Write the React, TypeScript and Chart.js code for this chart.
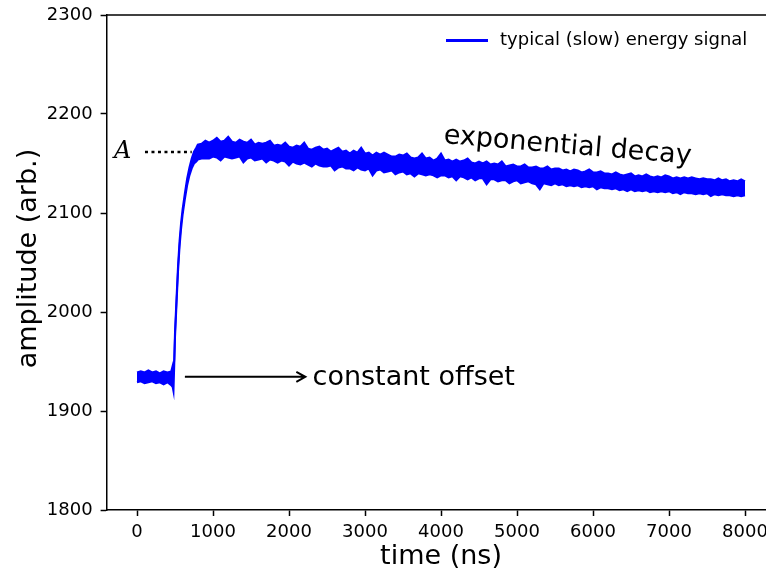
import React, { useEffect, useRef } from "react";
import { Chart, registerables } from "chart.js";

Chart.register(...registerables);

// ---- data ----
// the noisy signal is drawn as a band: upper and lower envelope of the trace
const times: number[] = [
  0, 50, 100, 150, 200, 250, 300, 350, 400, 450, 470, 480, 490, 500, 520, 540, 560, 580, 600, 630,
  660, 690, 720, 750, 780, 800,
  850, 900, 950, 1000, 1050, 1100, 1150, 1200, 1250, 1300, 1350, 1400, 1450, 1500, 1550, 1600, 1650, 1700, 1750, 1800,
  1850, 1900, 1950, 2000, 2050, 2100, 2150, 2200, 2250, 2300, 2350, 2400, 2450, 2500, 2550, 2600, 2650, 2700, 2750, 2800,
  2850, 2900, 2950, 3000, 3050, 3100, 3150, 3200, 3250, 3300, 3350, 3400, 3450, 3500, 3550, 3600, 3650, 3700, 3750, 3800,
  3850, 3900, 3950, 4000, 4050, 4100, 4150, 4200, 4250, 4300, 4350, 4400, 4450, 4500, 4550, 4600, 4650, 4700, 4750, 4800,
  4850, 4900, 4950, 5000, 5050, 5100, 5150, 5200, 5250, 5300, 5350, 5400, 5450, 5500, 5550, 5600, 5650, 5700, 5750, 5800,
  5850, 5900, 5950, 6000, 6050, 6100, 6150, 6200, 6250, 6300, 6350, 6400, 6450, 6500, 6550, 6600, 6650, 6700, 6750, 6800,
  6850, 6900, 6950, 7000, 7050, 7100, 7150, 7200, 7250, 7300, 7350, 7400, 7450, 7500, 7550, 7600, 7650, 7700, 7750, 7800,
  7850, 7900, 7950, 8000,
];

const signalUpper: number[] = [
  1939, 1940, 1939, 1941, 1939, 1940, 1938, 1940, 1939, 1940, 1946, 1942, 1952, 1980, 2014, 2047, 2072, 2090, 2104, 2120,
  2135, 2146, 2155, 2162, 2166, 2169,
  2170, 2173, 2171, 2173, 2176, 2172, 2173, 2177, 2172, 2171, 2174, 2172, 2171, 2174, 2169, 2171, 2170, 2171, 2173, 2168,
  2169, 2168, 2171, 2167, 2166, 2168, 2167, 2171, 2165, 2164, 2166, 2167, 2164, 2165, 2162, 2164, 2166, 2162, 2163, 2160,
  2163, 2161, 2166, 2160, 2161, 2158, 2161, 2159, 2161, 2159, 2157, 2157, 2159, 2158, 2160, 2156, 2155, 2156, 2160, 2155,
  2156, 2153, 2155, 2160, 2153, 2154, 2152, 2154, 2152, 2153, 2155, 2151, 2150, 2152, 2150, 2152, 2149, 2150, 2149, 2152,
  2147, 2148, 2149, 2147, 2147, 2149, 2146, 2146, 2147, 2145, 2145, 2147, 2144, 2145, 2145, 2143, 2144, 2142, 2144, 2143,
  2141, 2142, 2144, 2141, 2141, 2142, 2140, 2140, 2139, 2141, 2139, 2138, 2139, 2140, 2137, 2138, 2137, 2139, 2137, 2136,
  2137, 2136, 2138, 2137, 2135, 2136, 2135, 2136, 2135, 2136, 2135, 2134, 2135, 2134, 2134, 2133, 2135, 2133, 2134, 2132,
  2133, 2132, 2134, 2132,
];

const signalLower: number[] = [
  1929, 1930, 1928, 1929, 1930, 1928, 1929, 1927, 1929, 1926, 1924, 1920, 1946, 1974, 2008, 2041, 2066, 2084, 2098, 2114,
  2128, 2138, 2145, 2150, 2152, 2154,
  2155, 2155, 2155, 2157, 2156, 2153, 2157, 2156, 2155, 2156, 2157, 2151, 2155, 2156, 2153, 2154, 2155, 2151, 2154, 2153,
  2151, 2153, 2152, 2148, 2152, 2150, 2149, 2151, 2149, 2147, 2150, 2148, 2147, 2147, 2148, 2143, 2146, 2147, 2145, 2145,
  2143, 2146, 2144, 2143, 2145, 2138, 2143, 2144, 2141, 2142, 2143, 2139, 2141, 2142, 2139, 2140, 2137, 2140, 2139, 2138,
  2139, 2138, 2136, 2138, 2138, 2136, 2137, 2133, 2137, 2136, 2134, 2136, 2133, 2135, 2135, 2129, 2134, 2134, 2132, 2133,
  2133, 2130, 2132, 2133, 2130, 2131, 2132, 2130, 2129, 2124, 2130, 2129, 2128, 2130, 2128, 2129, 2127, 2128, 2127, 2128,
  2126, 2127, 2126, 2127, 2124, 2126, 2125, 2125, 2124, 2125, 2123, 2124, 2122, 2124, 2122, 2123, 2122, 2123, 2121, 2122,
  2121, 2122, 2121, 2122, 2120, 2121, 2119, 2121, 2120, 2120, 2119, 2120, 2119, 2120, 2117, 2119, 2118, 2119, 2118, 2118,
  2117, 2118, 2117, 2118,
];

const xTicks: number[] = [0, 1000, 2000, 3000, 4000, 5000, 6000, 7000, 8000];
const yTicks: number[] = [1800, 1900, 2000, 2100, 2200, 2300];

const seriesLabel = "typical (slow) energy signal";
const xTitle = "time (ns)";
const yTitle = "amplitude (arb.)";
const offsetLabel = "constant offset";
const decayLabel = "exponential decay";
const amplitudeSymbol = "A";

// annotation anchor points (data units)
const levelA = 2161.5;
const offsetLevel = 1934;

const FONT = "'DejaVu Sans', sans-serif";
const BLUE = "#0000ff";

const annotPlugin = {
  id: "annot",
  afterDraw(chart: any) {
    const { ctx, chartArea: ca, scales } = chart;
    const x = scales.x;
    const y = scales.y;
    ctx.save();

    // top spine
    ctx.strokeStyle = "#000";
    ctx.lineWidth = 1.5;
    ctx.beginPath();
    ctx.moveTo(ca.left, ca.top);
    ctx.lineTo(ca.right + 2, ca.top);
    ctx.stroke();

    // axis titles
    ctx.fillStyle = "#000";
    ctx.font = `27px ${FONT}`;
    ctx.textAlign = "center";
    ctx.textBaseline = "middle";
    ctx.fillText(xTitle, (ca.left + ca.right) / 2, 557);
    ctx.save();
    ctx.translate(29, (ca.top + ca.bottom) / 2 - 4);
    ctx.rotate(-Math.PI / 2);
    ctx.fillText(yTitle, 0, 0);
    ctx.restore();

    // legend
    ctx.strokeStyle = BLUE;
    ctx.lineWidth = 3;
    ctx.beginPath();
    ctx.moveTo(446, 40.5);
    ctx.lineTo(488, 40.5);
    ctx.stroke();
    ctx.font = `18px ${FONT}`;
    ctx.textAlign = "left";
    ctx.textBaseline = "middle";
    ctx.fillText(seriesLabel, 500, 40);

    // A symbol and dotted level line
    ctx.font = `italic 24px 'DejaVu Serif', serif`;
    ctx.textAlign = "left";
    ctx.textBaseline = "alphabetic";
    ctx.fillText(amplitudeSymbol, 114, 158);
    const yA = y.getPixelForValue(levelA);
    ctx.strokeStyle = "#000";
    ctx.lineWidth = 2.5;
    ctx.setLineDash([3, 3.5]);
    ctx.beginPath();
    ctx.moveTo(x.getPixelForValue(105), yA);
    ctx.lineTo(x.getPixelForValue(720), yA);
    ctx.stroke();
    ctx.setLineDash([]);

    // constant offset arrow
    const ya = y.getPixelForValue(offsetLevel) - 0.5;
    const x0 = x.getPixelForValue(630);
    const x1 = x.getPixelForValue(2215);
    ctx.lineWidth = 2;
    ctx.beginPath();
    ctx.moveTo(x0, ya);
    ctx.lineTo(x1, ya);
    ctx.moveTo(x1 - 9, ya - 5);
    ctx.lineTo(x1, ya);
    ctx.lineTo(x1 - 9, ya + 5);
    ctx.stroke();
    ctx.font = `27px ${FONT}`;
    ctx.textBaseline = "alphabetic";
    ctx.fillText(offsetLabel, x.getPixelForValue(2310), 385);

    // exponential decay (rotated)
    ctx.save();
    ctx.translate(x.getPixelForValue(4030), 143);
    ctx.rotate((4.8 * Math.PI) / 180);
    ctx.fillText(decayLabel, 0, 0);
    ctx.restore();

    ctx.restore();
  },
};

export default function App() {
  const ref = useRef<HTMLCanvasElement | null>(null);
  useEffect(() => {
    if (!ref.current) return;
    const chart = new Chart(ref.current, {
      type: "line",
      data: {
        datasets: [
          {
            label: seriesLabel,
            data: times.map((t, i) => ({ x: t, y: signalUpper[i] })),
            borderColor: BLUE,
            backgroundColor: BLUE,
            borderWidth: 2,
            pointRadius: 0,
            tension: 0,
            fill: "+1",
          },
          {
            label: seriesLabel + " (lower)",
            data: times.map((t, i) => ({ x: t, y: signalLower[i] })),
            borderColor: BLUE,
            backgroundColor: BLUE,
            borderWidth: 2,
            pointRadius: 0,
            tension: 0,
            fill: false,
          },
        ],
      },
      options: {
        responsive: false,
        animation: false,
        events: [],
        layout: { padding: { left: 0, right: 24.6, top: 15, bottom: 0 } },
        plugins: { legend: { display: false }, tooltip: { enabled: false } },
        scales: {
          x: {
            type: "linear",
            min: -400,
            max: 8400,
            afterBuildTicks: (s: any) => {
              s.ticks = xTicks.map((v) => ({ value: v }));
            },
            afterFit: (s: any) => {
              s.height = 64;
              s.paddingLeft = 0;
              s.paddingRight = 0;
              s.paddingTop = 0;
              s.paddingBottom = 0;
            },
            ticks: {
              color: "#000",
              font: { family: FONT, size: 18 },
              padding: 6,
              maxRotation: 0,
              autoSkip: false,
              callback: (v: any) => String(v),
            },
            grid: { drawOnChartArea: false, drawTicks: true, tickLength: 6, tickWidth: 1.5, tickColor: "#000" },
            border: { display: true, color: "#000", width: 1.5 },
          },
          y: {
            type: "linear",
            min: 1800,
            max: 2300,
            afterBuildTicks: (s: any) => {
              s.ticks = yTicks.map((v) => ({ value: v }));
            },
            afterFit: (s: any) => {
              s.width = 106.6;
              s.paddingLeft = 0;
              s.paddingRight = 0;
              s.paddingTop = 0;
              s.paddingBottom = 0;
            },
            ticks: { color: "#000", font: { family: FONT, size: 18 }, padding: 8, callback: (v: any) => String(v) },
            grid: { drawOnChartArea: false, drawTicks: true, tickLength: 6, tickWidth: 1.5, tickColor: "#000" },
            border: { display: true, color: "#000", width: 1.5 },
          },
        },
      },
      plugins: [annotPlugin],
    });
    return () => chart.destroy();
  }, []);

  return (
    <div style={{ position: "absolute", left: 0, top: 0, width: 766, height: 574, overflow: "hidden", background: "#fff" }}>
      <canvas ref={ref} width={800} height={574} style={{ display: "block" }} />
    </div>
  );
}
